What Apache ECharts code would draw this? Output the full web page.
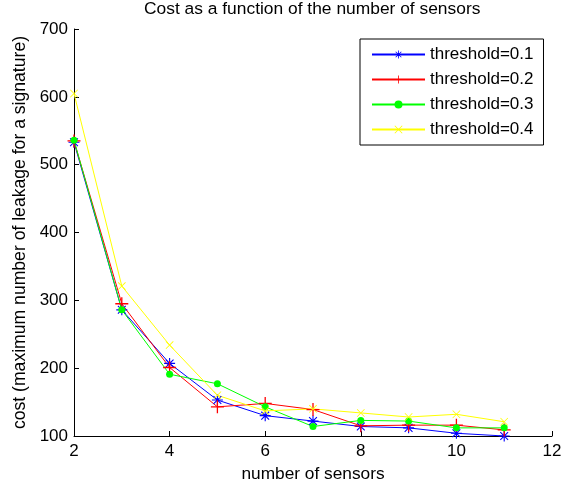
<!DOCTYPE html>
<html>
<head>
<meta charset="utf-8">
<script src="https://cdn.jsdelivr.net/npm/echarts@6/dist/echarts.min.js"></script>
<style>
html,body{margin:0;padding:0;background:#fff;}
#chart{width:569px;height:488px;}
</style>
</head>
<body>
<div id="chart"></div>
<script>
const sensors = [2, 3, 4, 5, 6, 7, 8, 9, 10, 11];
const threshold01 = [533, 286, 207, 153, 130, 122, 114, 112, 104, 100];
const threshold02 = [535, 295, 201, 143, 148, 139, 115, 116, 116, 109];
const threshold03 = [536, 286, 191, 177, 143, 114, 123, 122, 112, 112];
const threshold04 = [605, 321, 234, 160, 137, 140, 134, 128, 132, 121];
const seriesNames = ['threshold=0.1', 'threshold=0.2', 'threshold=0.3', 'threshold=0.4'];
const xTicks = [2, 4, 6, 8, 10, 12];
const yTicks = [100, 200, 300, 400, 500, 600, 700];

const PLUS = 'path://M9,0 L11,0 L11,9 L20,9 L20,11 L11,11 L11,20 L9,20 L9,11 L0,11 L0,9 L9,9 Z';
const CROSS = 'path://M0,1.4 L1.4,0 L20,18.6 L18.6,20 Z M18.6,0 L20,1.4 L1.4,20 L0,18.6 Z';
const STAR = 'path://M9,0 L11,0 L11,9 L20,9 L20,11 L11,11 L11,20 L9,20 L9,11 L0,11 L0,9 L9,9 Z M2.2,3.6 L3.6,2.2 L17.8,16.4 L16.4,17.8 Z M16.4,2.2 L17.8,3.6 L3.6,17.8 L2.2,16.4 Z';

const FONT = 'Liberation Sans';
function pairs(vals){ return sensors.map((x,i)=>[x, vals[i]]); }
function mk(name, vals, color, symbol, size){
  return {
    name: name, type: 'line', data: pairs(vals),
    symbol: symbol, symbolSize: size,
    lineStyle: {color: color, width: 1},
    itemStyle: {color: color},
    emphasis: {disabled: true},
    animation: false
  };
}

const chart = echarts.init(document.getElementById('chart'), null, {renderer: 'canvas'});
chart.setOption({
  backgroundColor: '#fff',
  animation: false,
  title: {
    text: 'Cost as a function of the number of sensors',
    left: 144, top: 1, padding: 0,
    textStyle: {fontFamily: FONT, fontSize: 17.4, fontWeight: 'normal', color: '#000'}
  },
  legend: {
    orient: 'vertical',
    left: 360, top: 39,
    width: 184,
    padding: [7, 10, 7, 11],
    itemWidth: 53, itemHeight: 10, itemGap: 8,
    borderColor: '#000', borderWidth: 1,
    backgroundColor: '#fff',
    textStyle: {fontFamily: FONT, fontSize: 17, color: '#000'},
    data: seriesNames
  },
  grid: {left: 74, right: 17, top: 29, bottom: 52, containLabel: false},
  xAxis: {
    type: 'value', min: xTicks[0], max: xTicks[xTicks.length-1], interval: 2,
    name: 'number of sensors', nameLocation: 'middle', nameGap: 30,
    nameTextStyle: {fontFamily: FONT, fontSize: 17.3, color: '#000'},
    axisLine: {show: true, lineStyle: {color: '#000', width: 1}},
    axisTick: {show: true, inside: true, length: 5, lineStyle: {color: '#000'}},
    axisLabel: {fontFamily: FONT, fontSize: 17, color: '#000', margin: 7},
    splitLine: {show: false}
  },
  yAxis: {
    type: 'value', min: yTicks[0], max: yTicks[yTicks.length-1], interval: 100,
    name: 'cost (maximum number of leakage for a signature)', nameLocation: 'middle', nameGap: 43,
    nameTextStyle: {fontFamily: FONT, fontSize: 17.6, color: '#000'},
    axisLine: {show: true, lineStyle: {color: '#000', width: 1}},
    axisTick: {show: true, inside: true, length: 5, lineStyle: {color: '#000'}},
    axisLabel: {fontFamily: FONT, fontSize: 17, color: '#000', margin: 6},
    splitLine: {show: false}
  },
  series: [
    mk(seriesNames[0], threshold01, '#0000ff', STAR, 11),
    mk(seriesNames[1], threshold02, '#ff0000', PLUS, 13),
    mk(seriesNames[2], threshold03, '#00ff00', 'circle', 7),
    mk(seriesNames[3], threshold04, '#ffff00', CROSS, 8)
  ]
});
</script>
</body>
</html>
